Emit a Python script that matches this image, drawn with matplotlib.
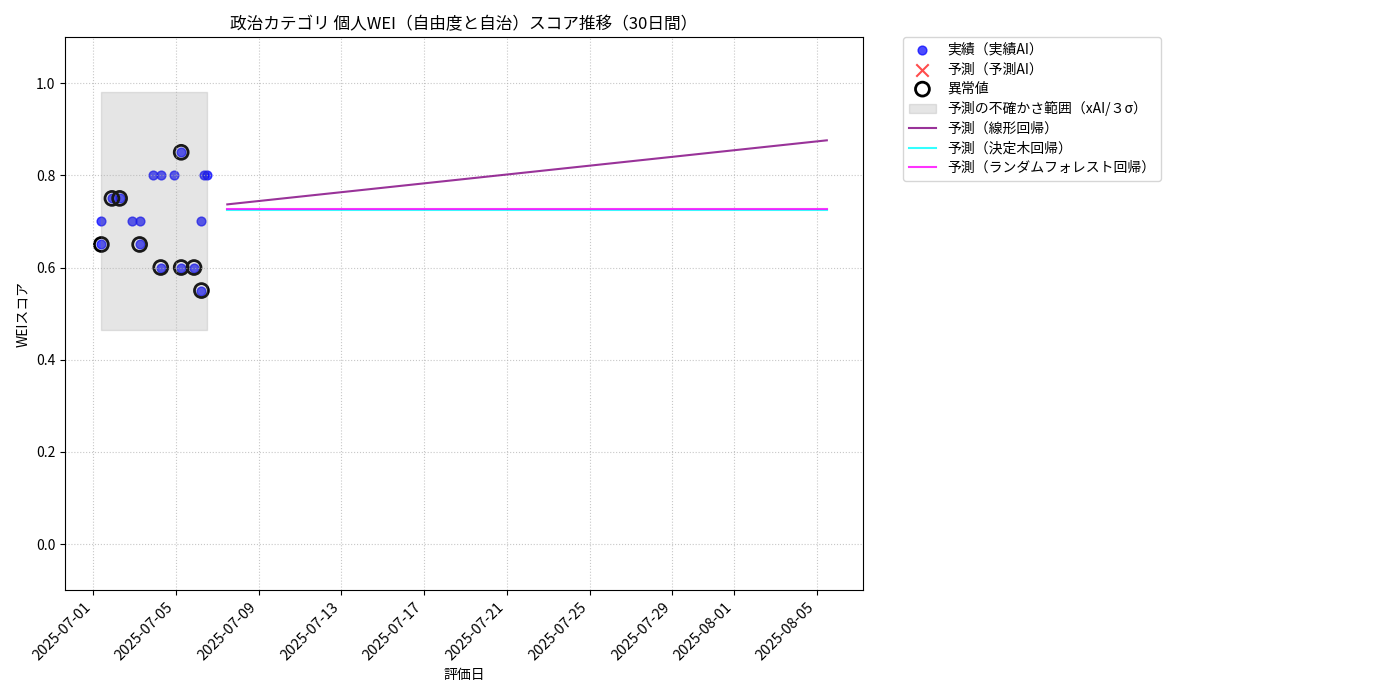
import numpy as np
import pandas as pd
import matplotlib
matplotlib.use("Agg")
import matplotlib.pyplot as plt
import matplotlib.dates as mdates

plt.rcParams['font.family'] = ['Noto Sans CJK JP', 'DejaVu Sans']

# actual scores (実績AI)
actual_dates = [
    "2025-07-01 09:20", "2025-07-01 09:20", "2025-07-01 21:36", "2025-07-02 06:30",
    "2025-07-02 20:50", "2025-07-03 05:45", "2025-07-03 05:45", "2025-07-03 21:50",
    "2025-07-04 06:15", "2025-07-04 06:15", "2025-07-04 22:05", "2025-07-05 06:00",
    "2025-07-05 06:00", "2025-07-05 20:53", "2025-07-06 05:30", "2025-07-06 05:30",
    "2025-07-06 08:00", "2025-07-06 11:30",
]
actual_scores = [
    0.65, 0.70, 0.75, 0.75,
    0.70, 0.70, 0.65, 0.80,
    0.80, 0.60, 0.80, 0.85,
    0.60, 0.60, 0.70, 0.55,
    0.80, 0.80,
]
is_outlier = [
    True, False, True, True,
    False, False, True, False,
    False, True, False, True,
    True, True, False, True,
    False, False,
]

# uncertainty band (xAI / 3 sigma)
band_lower = 0.464
band_upper = 0.980

# forecast horizon (start, end) and model outputs
forecast_dates = ["2025-07-07 11:30", "2025-08-05 11:30"]
linear_pred = [0.737, 0.876]
tree_pred = [0.724, 0.724]
forest_pred = [0.7275, 0.7275]

dates = pd.to_datetime(actual_dates)
scores = np.array(actual_scores)
mask = np.array(is_outlier)
fdates = pd.to_datetime(forecast_dates)

fig, ax = plt.subplots(figsize=(14, 7), dpi=100)
fig.subplots_adjust(left=0.0465, right=0.6165, top=0.947, bottom=0.157)

ax.scatter(dates, scores, color='blue', alpha=0.7, s=40, label='実績（実績AI）')
ax.scatter([], [], color='red', marker='x', alpha=0.7, s=80, label='予測（予測AI）')
ax.scatter(dates[mask], scores[mask], facecolors='none', edgecolors='black',
           s=100, linewidths=2, label='異常値')
ax.fill_between([dates.min(), dates.max()], band_lower, band_upper,
                color='gray', alpha=0.2, label='予測の不確かさ範囲（xAI/３σ）')
ax.plot(fdates, linear_pred, color='purple', alpha=0.8, linewidth=1.5, label='予測（線形回帰）')
ax.plot(fdates, tree_pred, color='cyan', alpha=0.8, linewidth=1.5, label='予測（決定木回帰）')
ax.plot(fdates, forest_pred, color='magenta', alpha=0.8, linewidth=1.5,
        label='予測（ランダムフォレスト回帰）')

ax.set_ylim(-0.1, 1.1)
ax.set_title('政治カテゴリ 個人WEI（自由度と自治）スコア推移（30日間）', fontsize=12)
ax.set_xlabel('評価日')
ax.set_ylabel('WEIスコア')
ax.grid(True, linestyle=':', alpha=0.7)
ax.xaxis.set_major_formatter(mdates.DateFormatter('%Y-%m-%d'))
ax.tick_params(axis='x', labelsize=10.5)
plt.setp(ax.get_xticklabels(), rotation=45, ha='right')
ax.legend(bbox_to_anchor=(1.05, 1), loc='upper left', borderaxespad=0,
          labelspacing=0.4)

fig.savefig('out.png')
